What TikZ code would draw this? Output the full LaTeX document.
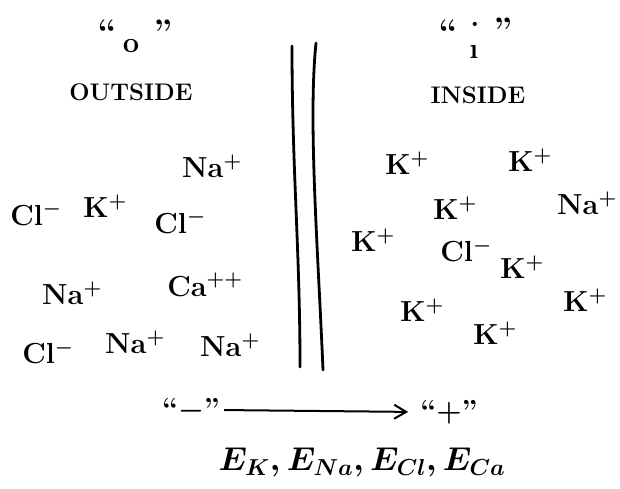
\RequirePackage{fix-cm}
\documentclass[tikz,border=0pt]{standalone}
\usetikzlibrary{arrows.meta}
\begin{document}
\begin{tikzpicture}[x=1pt,y=-1pt,
  ion/.style={font=\fontsize{29}{33}\selectfont\bfseries\boldmath, inner sep=0pt},
  head/.style={font=\fontsize{24}{28}\selectfont\bfseries, inner sep=0pt},
  quo/.style={font=\fontsize{34}{38}\selectfont\bfseries, inner sep=0pt},
  big/.style={font=\fontsize{33}{37}\selectfont\boldmath, inner sep=0pt},
  wall/.style={line width=2.8pt, line cap=round}]
\useasboundingbox (0,0) rectangle (620,488);
% headings
\node[quo] (oq1) at (107,32) {\textquotedblleft};
\node[quo] (oq2) at (163,32) {\textquotedblright};
\node[ion] (o) at (131,46) {o};
\node[head] (out) at (131,92) {OUTSIDE};
\node[quo] (iq1) at (448,32) {\textquotedblleft};
\node[ion] (idot) at (475,24) {.};
\node[quo] (iq2) at (503,30) {\textquotedblright};
\node[ion] (i) at (474,52) {\i};
\node[head] (in) at (478,95) {INSIDE};
% membrane
\coordinate (l1) at (292,46); \coordinate (l2) at (300,367);
\coordinate (r1) at (316,43); \coordinate (r2) at (323,370);
\draw[wall] (l1) .. controls (292,170) and (300,250) .. (l2);
\draw[wall] (r1) .. controls (308,120) and (318,250) .. (r2);
% outside ions
\node[ion] (o1) at (212,166) {Na$^+$};
\node[ion] (o2) at (36,214) {Cl$^-$};
\node[ion] (o3) at (105,206) {K$^+$};
\node[ion] (o4) at (180,222) {Cl$^-$};
\node[ion] (o5) at (72,293) {Na$^+$};
\node[ion] (o6) at (205,285) {Ca$^{++}$};
\node[ion] (o7) at (48,352) {Cl$^-$};
\node[ion] (o8) at (135,342) {Na$^+$};
\node[ion] (o9) at (230,345) {Na$^+$};
% inside ions
\node[ion] (i1) at (407,163) {K$^+$};
\node[ion] (i2) at (530,160) {K$^+$};
\node[ion] (i3) at (455,208) {K$^+$};
\node[ion] (i4) at (587,203) {Na$^+$};
\node[ion] (i5) at (373,240) {K$^+$};
\node[ion] (i6) at (466,250) {Cl$^-$};
\node[ion] (i7) at (522,267) {K$^+$};
\node[ion] (i8) at (422,310) {K$^+$};
\node[ion] (i9) at (495,333) {K$^+$};
\node[ion] (i10) at (585,300) {K$^+$};
% bottom
\node[ion] (minus) at (191,410) {\textquotedblleft$-$\textquotedblright};
\node[ion] (plus) at (449,412) {\textquotedblleft$+$\textquotedblright};
\draw[line width=2pt, -{Straight Barb[length=12pt,width=14pt,line width=2pt]}, shorten <=4pt, shorten >=12pt] (minus.east) -- (plus.west);
\node[big] (E) at (362,462) {$E_K, E_{Na}, E_{Cl}, E_{Ca}$};
\end{tikzpicture}
\end{document}
